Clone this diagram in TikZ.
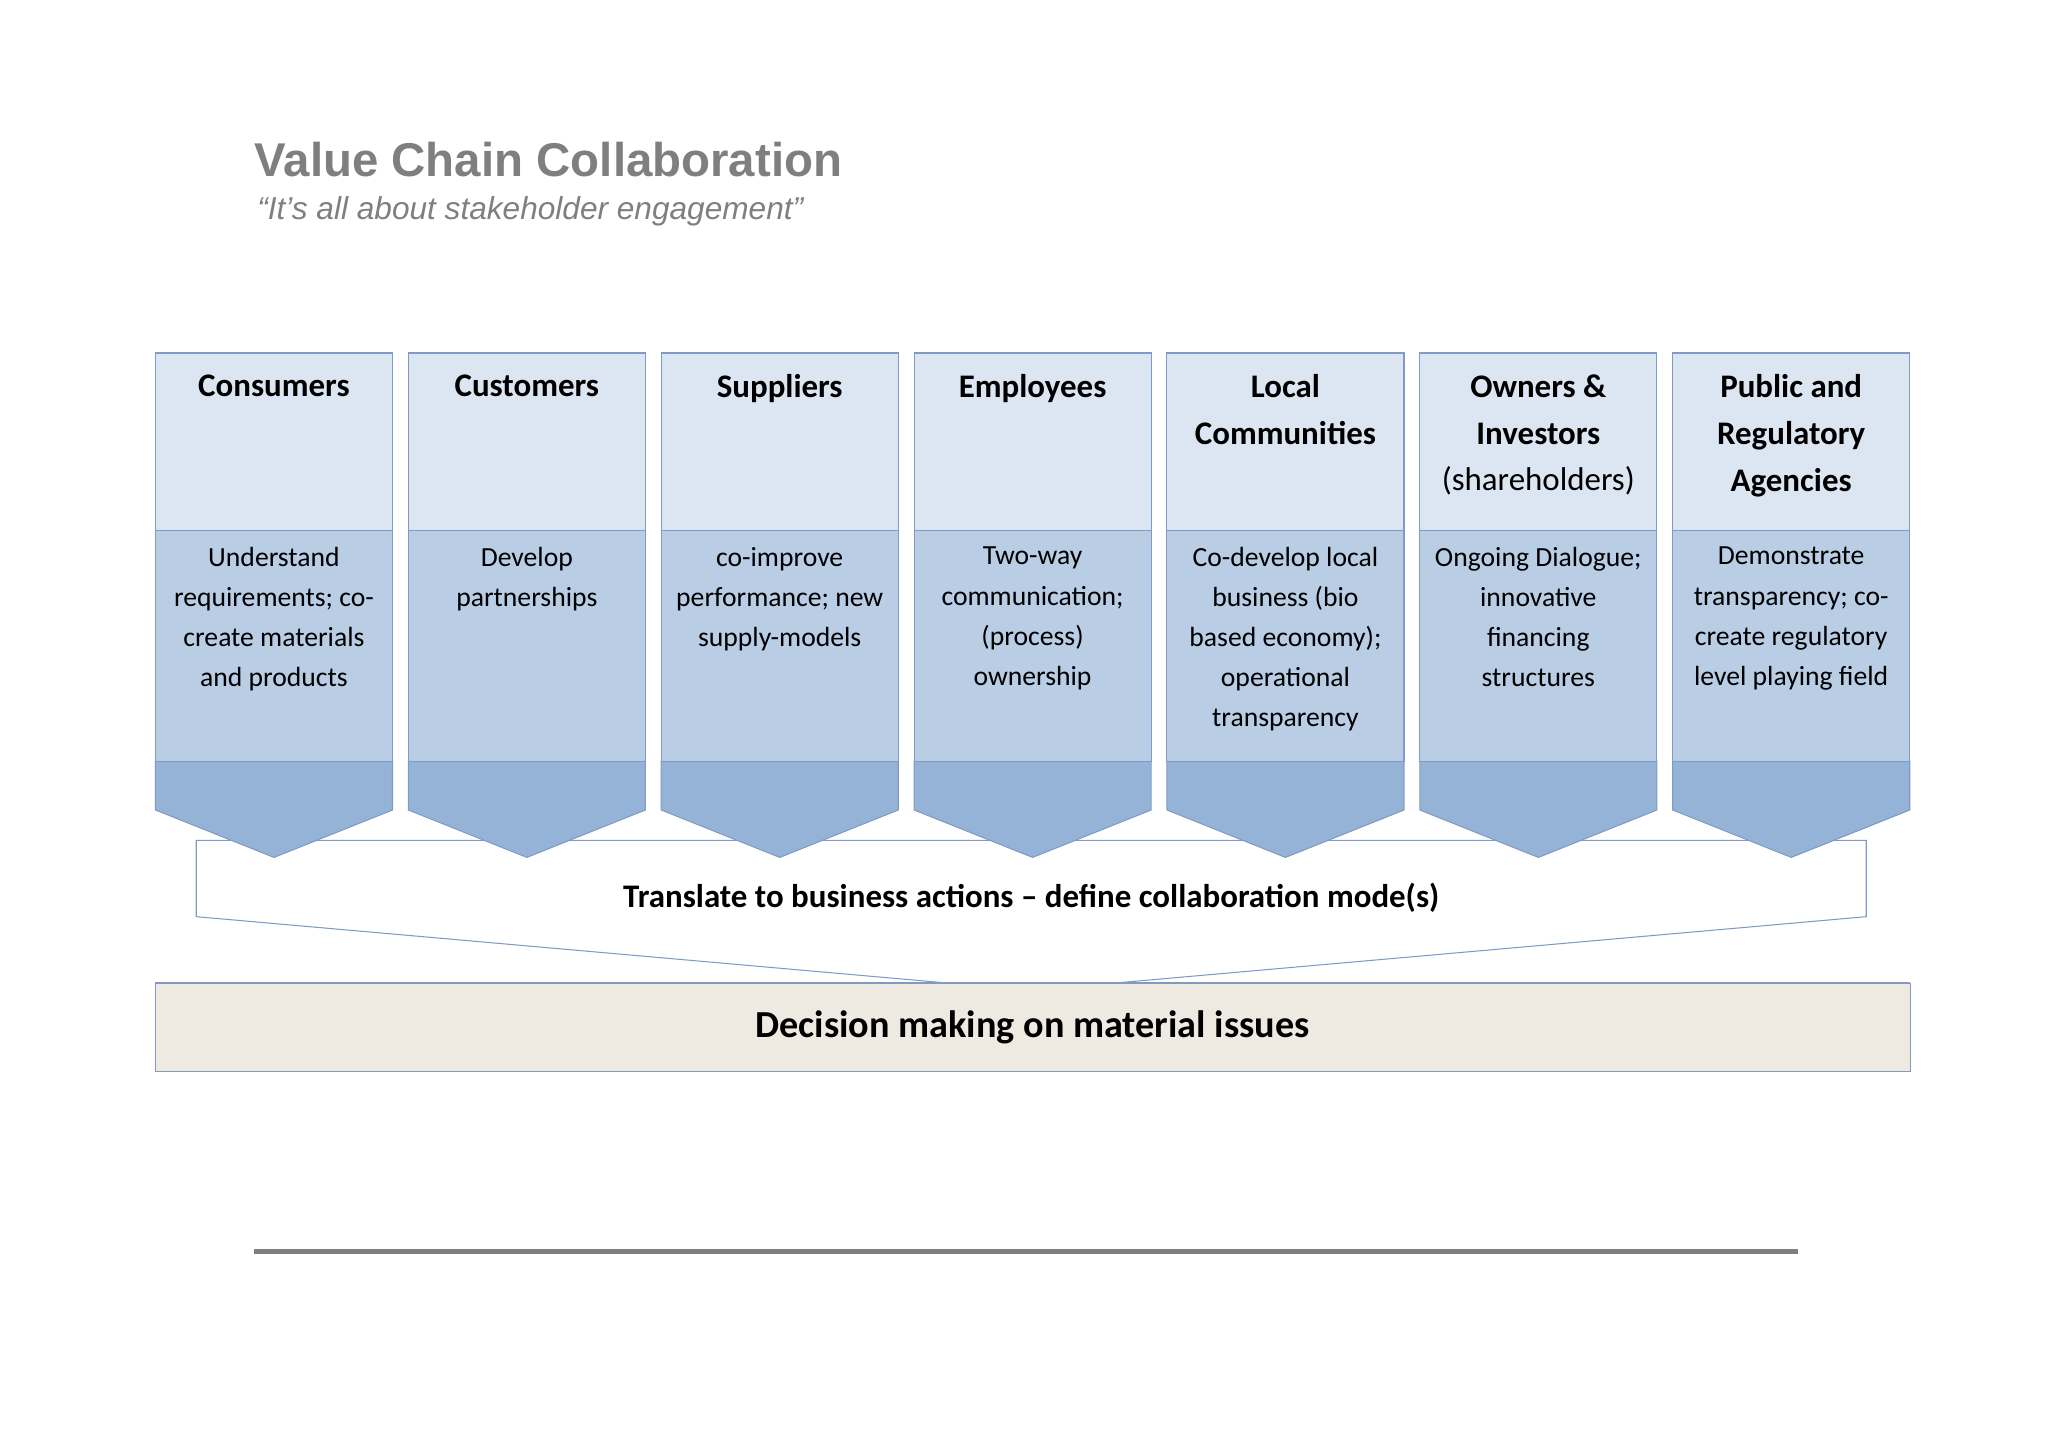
\documentclass[tikz,border=0pt]{standalone}
\usepackage{fontspec}
\setmainfont{Carlito}
\newfontfamily\arialfont{Liberation Sans}
\definecolor{hdfill}{HTML}{DCE6F2}
\definecolor{bdfill}{HTML}{B9CDE5}
\definecolor{chfill}{HTML}{95B3D7}
\definecolor{edge}{HTML}{7F9BC4}
\definecolor{basefill}{HTML}{EEEAE2}
\definecolor{titlegray}{HTML}{7F7F7F}
\begin{document}
\begin{tikzpicture}[x=0.5pt, y=-0.5pt,
    headText/.style = {anchor=north, inner sep=0pt, align=center, font=\fontsize{12.5}{17.75}\selectfont\bfseries},
    bodyText/.style = {anchor=north, inner sep=0pt, align=center, font=\fontsize{10.5}{15.25}\selectfont},
    panel/.style = {draw=edge, line width=0.4pt},
    ]
    \useasboundingbox (0,0) rectangle (1555,1099);
    % title
    \node (title) [anchor=base west, inner sep=0pt, text=titlegray, font=\arialfont\fontsize{18}{20}\selectfont\bfseries] at (193,134) {Value Chain Collaboration};
    \node (subtitle) [anchor=base west, inner sep=0pt, text=titlegray, font=\arialfont\fontsize{12}{14}\selectfont\itshape] at (195,167) {“It’s all about stakeholder engagement”};
    % funnel and base
    \draw[panel, fill=white] (149,638) -- (1417,638) -- (1417,696) -- (783,752) -- (149,696) -- cycle;
    \node (base) [panel, fill=basefill, anchor=north west, minimum width=666pt, minimum height=33.5pt, inner sep=0pt] at (118,746) {};
    \draw[panel] (118,746) -- (1450,746);
    \node (decision) [font=\fontsize{14.5}{16}\selectfont\bfseries] at (784,780) {Decision making on material issues};
    \node (translate) [font=\fontsize{12.5}{14}\selectfont\bfseries] at (783,682) {Translate to business actions -- define collaboration mode(s)};
    % stakeholder columns
    \foreach \i/\hd/\bd in {
      0/{Consumers}/{Understand\\requirements; co-\\create materials\\and products},
      1/{Customers}/{Develop\\partnerships},
      2/{Suppliers}/{co-improve\\performance; new\\supply-models},
      3/{Employees}/{Two-way\\communication;\\(process)\\ownership},
      4/{Local\\Communities}/{Co-develop local\\business (bio\\based economy);\\operational\\transparency},
      5/{Owners \&\\Investors\\\mdseries(shareholders)}/{Ongoing Dialogue;\\innovative\\financing\\structures},
      6/{Public and\\Regulatory\\Agencies}/{Demonstrate\\transparency; co-\\create regulatory\\level playing field}} {
      \pgfmathsetmacro{\xl}{118+192*\i}
      \pgfmathsetmacro{\xr}{\xl+180}
      \pgfmathsetmacro{\xm}{\xl+90}
      \draw[panel, fill=chfill] (\xl,578) -- (\xr,578) -- (\xr,615) -- (\xm,651) -- (\xl,615) -- cycle;
      \draw[panel, fill=bdfill] (\xl,403) rectangle (\xr,578);
      \draw[panel, fill=hdfill] (\xl,268) rectangle (\xr,403);
      \node (h\i) [headText] at (\xm,284) {\hd};
      \node (b\i) [bodyText] at (\xm,415) {\bd};
    }
    % footer rule
    \draw[titlegray, line width=2pt] (193,950) -- (1365,950);
\end{tikzpicture}
\end{document}
